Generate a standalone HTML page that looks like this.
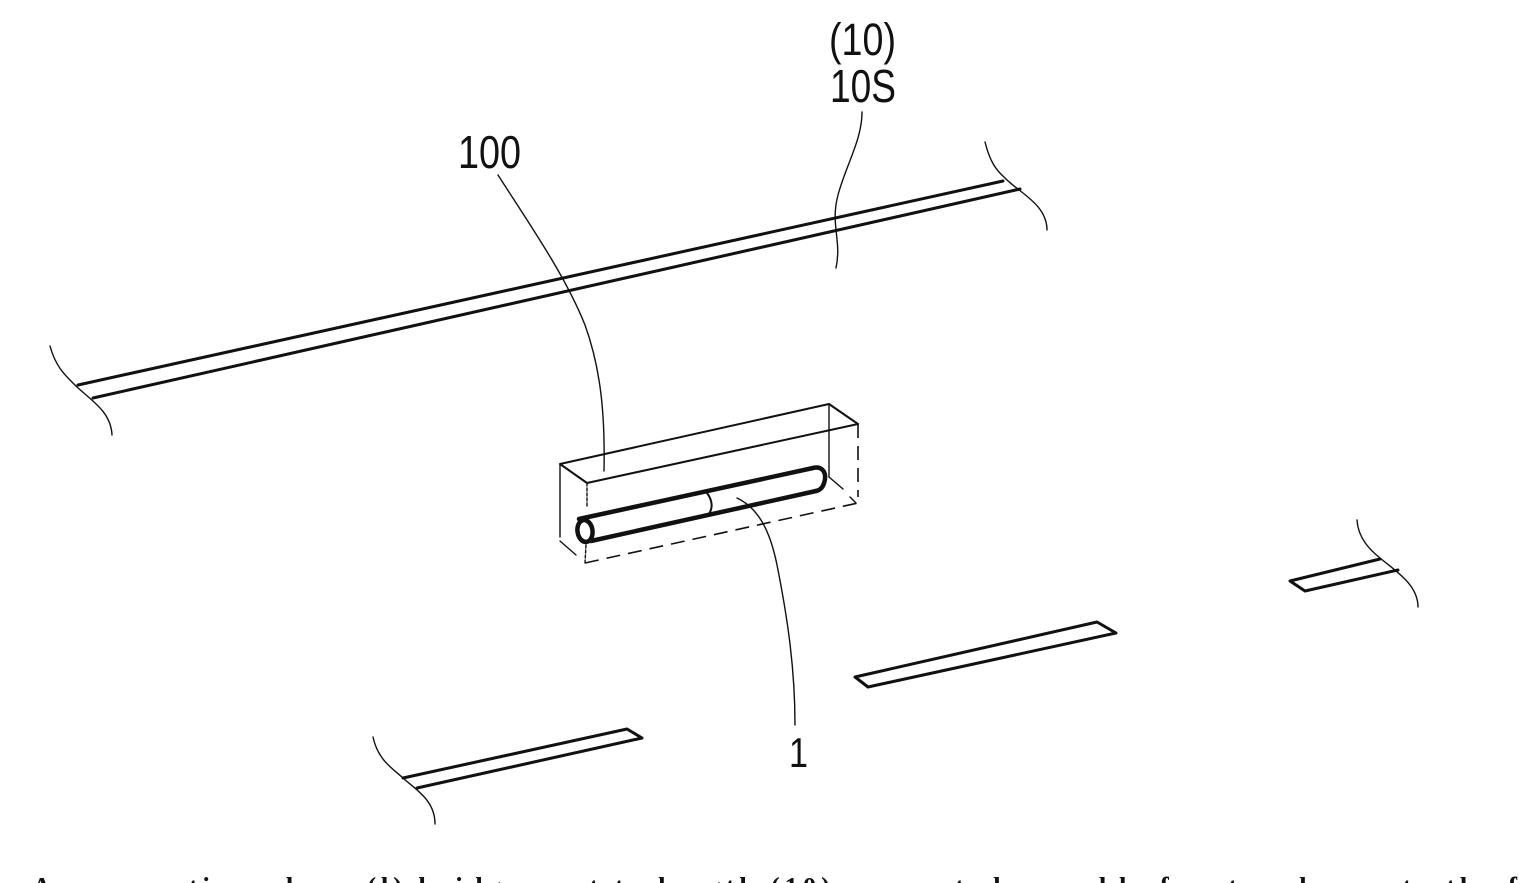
<!DOCTYPE html>
<html lang="en">
<head>
<meta charset="utf-8">
<title>Perspective diagram</title>
<style>
html,body{margin:0;padding:0;background:#fff;width:1519px;height:883px;overflow:hidden}
svg{display:block}
text{font-family:"Liberation Sans",sans-serif;fill:#111}
.s{font-family:"Liberation Serif",serif;font-size:27px;font-weight:700}
path,line,ellipse{fill:none;stroke:#111;stroke-linecap:round;stroke-linejoin:round}
.m{stroke-width:3}
.t{stroke-width:1.4}
.b{stroke-width:2}
.h{stroke-width:4.5}
.d{stroke-width:1.6;stroke-dasharray:14 8;stroke-linecap:butt}
</style>
</head>
<body>
<svg width="1519" height="883" viewBox="0 0 1519 883" xmlns="http://www.w3.org/2000/svg">
<rect width="1519" height="883" fill="#fff"/>

<!-- Labels -->
<text x="829" y="55" font-size="45" textLength="67" lengthAdjust="spacingAndGlyphs">(10)</text>
<text x="830" y="102" font-size="46" textLength="66" lengthAdjust="spacingAndGlyphs">10S</text>
<text x="458" y="168" font-size="46" textLength="63" lengthAdjust="spacingAndGlyphs">100</text>
<text x="789" y="767" font-size="42" textLength="19" lengthAdjust="spacingAndGlyphs">1</text>

<!-- Long strip -->
<path class="m" d="M78 385L1003 181"/>
<path class="m" d="M93 398L1020 189"/>
<path class="t" d="M50 346C56 368 66 376 77 387C92 401 111 412 112 435"/>
<path class="t" d="M985 142C990 162 996 170 1005 178C1018 192 1047 204 1047 230"/>

<!-- Right strip -->
<path class="m" d="M1380 559L1290 581L1305 591L1398 570"/>
<path class="t" d="M1357 520C1358 538 1370 550 1380 558C1394 570 1418 584 1418 607"/>

<!-- Middle strip -->
<path class="m" d="M855 677L1097 622L1116 633L868 687Z"/>

<!-- Left strip -->
<path class="m" d="M403 778L627 729L642 738L417 788"/>
<path class="t" d="M373 737C378 760 392 768 403 778C416 790 435 800 435 824"/>

<!-- Leader lines -->
<path class="t" d="M862 112C862 140 846 165 838 195C830 225 842 240 836 268"/>
<path class="t" d="M498 175C530 225 565 275 585 325C602 372 605 420 604 471"/>
<path class="t" d="M737 498C758 508 770 530 777 565C788 620 795 670 795 725"/>

<!-- Transparent box -->
<path class="b" d="M560 464L829 404L858 424L587 483Z"/>
<line class="t" x1="560" y1="464" x2="560" y2="537" stroke="#333"/>
<line class="t" x1="829" y1="404" x2="829" y2="477"/>
<path class="t" d="M829 477L843 489"/>
<path class="t" d="M560 541L576 555"/>
<line class="t" x1="587" y1="483" x2="587" y2="508" stroke-dasharray="3 2"/>
<line class="t" x1="586" y1="545" x2="585" y2="563" stroke-dasharray="3 2"/>
<line class="d" x1="585" y1="563" x2="858" y2="503"/>
<line class="d" x1="858" y1="424" x2="858" y2="497"/>
<path class="t" d="M850 497L856 503"/>

<!-- Tube -->
<path class="h" d="M579 519L813 468"/>
<path class="h" d="M591 541L816 491"/>
<path class="h" d="M813 468C821 466 826 471 825 479C824 486 821 490 816 491"/>
<ellipse class="h" cx="585" cy="531" rx="7.5" ry="11" transform="rotate(-8 585 531)"/>
<path class="b" d="M707 493C713 501 713 509 708 515"/>

<!-- Cropped caption line -->
<text class="s" x="32" y="896" textLength="1485" lengthAdjust="spacing">A perspective where (l) bridge next to length (10) connected movable front and rear to the f</text>
</svg>
</body>
</html>
